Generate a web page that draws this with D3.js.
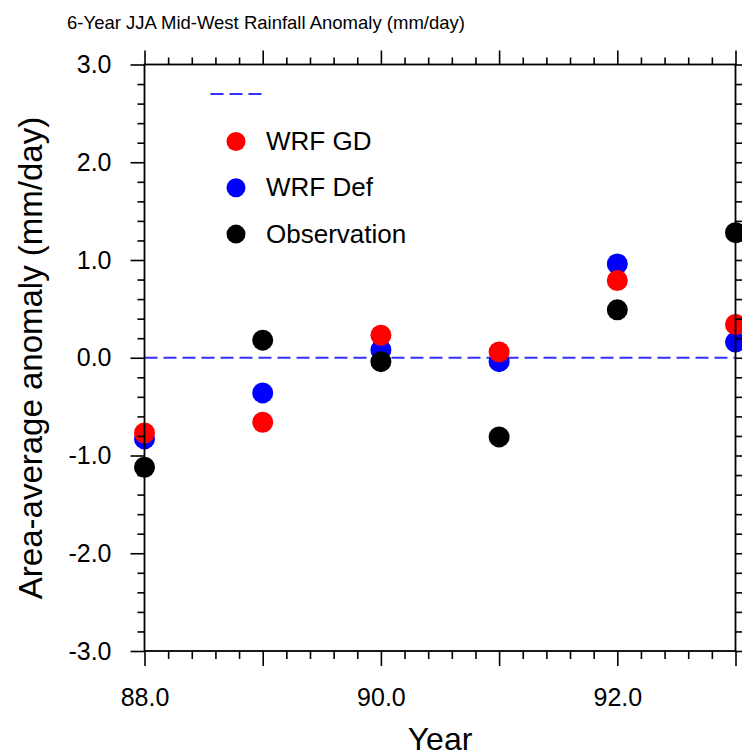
<!DOCTYPE html>
<html>
<head>
<meta charset="utf-8">
<script src="https://cdn.jsdelivr.net/npm/d3@7"></script>
<style>
  html, body { margin: 0; padding: 0; background: #fff; }
  svg { display: block; }
  text { font-family: "Liberation Sans", Arial, Helvetica, sans-serif; fill: #000; }
</style>
</head>
<body>
<svg id="chart" width="742" height="756"></svg>
<script>
// ---- data ----
const years = [88, 89, 90, 91, 92, 93];
const wrfGD = [-0.77, -0.66, 0.23, 0.06, 0.79, 0.34];
const wrfDef = [-0.83, -0.36, 0.08, -0.04, 0.96, 0.16];
const observation = [-1.12, 0.18, -0.04, -0.81, 0.49, 1.28];
const seriesNames = ["WRF GD", "WRF Def", "Observation"];
const seriesColors = ["#ff0000", "#0000ff", "#000000"];
const xMajorTicks = [88, 89, 90, 91, 92, 93];
const xLabelTicks = [88, 90, 92];
const yMajorTicks = [-3, -2, -1, 0, 1, 2, 3];
const titleText = "6-Year JJA Mid-West Rainfall Anomaly (mm/day)";
const xTitle = "Year";
const yTitle = "Area-average anomaly (mm/day)";

// ---- layout ----
const L = 144.5, R = 735.5, T = 64.5, B = 651;
const svg = d3.select("#chart");
const x = d3.scaleLinear().domain([88, 93]).range([L, R]);
const y = d3.scaleLinear().domain([-3, 3]).range([B, T]);
const fmt = v => d3.format(".1f")(v).replace("\u2212", "-");

const xMinor = d3.range(88, 93.001, 0.2).map(v => +v.toFixed(1)).filter(v => Math.abs(v - Math.round(v)) > 1e-6);
const yMinor = d3.range(-3, 3.001, 0.2).map(v => +v.toFixed(1)).filter(v => Math.abs(v - Math.round(v)) > 1e-6);

// zero reference line
svg.append("line")
  .attr("x1", x(88)).attr("x2", x(93))
  .attr("y1", y(0)).attr("y2", y(0))
  .attr("stroke", "#3333ff").attr("stroke-width", 2)
  .attr("stroke-dasharray", "13,6");

// markers: blue, red, black order
const series = [
  {name: seriesNames[1], color: seriesColors[1], values: wrfDef},
  {name: seriesNames[0], color: seriesColors[0], values: wrfGD},
  {name: seriesNames[2], color: seriesColors[2], values: observation}
];
series.forEach(s => {
  svg.append("g").selectAll("circle")
    .data(years.map((yr, i) => ({yr, v: s.values[i]})))
    .join("circle")
    .attr("cx", d => x(d.yr))
    .attr("cy", d => y(d.v))
    .attr("r", 10.5)
    .attr("fill", s.color);
});

// axes
function styleAxis(g) {
  g.select(".domain").remove();
  g.selectAll(".tick line").attr("stroke", "#000").attr("stroke-width", 1.6);
  g.selectAll(".tick text").attr("font-size", 25).attr("font-family", '"Liberation Sans", Arial, sans-serif').attr("fill", "#000");
}
// bottom
svg.append("g").attr("transform", `translate(0,${B})`)
  .call(d3.axisBottom(x).tickValues(xMajorTicks).tickSize(15)
    .tickFormat(d => xLabelTicks.includes(d) ? fmt(d) : ""))
  .call(styleAxis)
  .call(g => g.selectAll(".tick text").attr("dy", 0).attr("y", 55));
svg.append("g").attr("transform", `translate(0,${B})`)
  .call(d3.axisBottom(x).tickValues(xMinor).tickSize(8).tickFormat(""))
  .call(styleAxis);
// top
svg.append("g").attr("transform", `translate(0,${T})`)
  .call(d3.axisTop(x).tickValues(xMajorTicks).tickSize(14).tickFormat(""))
  .call(styleAxis);
svg.append("g").attr("transform", `translate(0,${T})`)
  .call(d3.axisTop(x).tickValues(xMinor).tickSize(7).tickFormat(""))
  .call(styleAxis);
// left
svg.append("g").attr("transform", `translate(${L},0)`)
  .call(d3.axisLeft(y).tickValues(yMajorTicks).tickSize(14).tickPadding(19)
    .tickFormat(fmt))
  .call(styleAxis);
svg.append("g").attr("transform", `translate(${L},0)`)
  .call(d3.axisLeft(y).tickValues(yMinor).tickSize(7).tickFormat(""))
  .call(styleAxis);
// right
svg.append("g").attr("transform", `translate(${R},0)`)
  .call(d3.axisRight(y).tickValues(yMajorTicks).tickSize(14).tickFormat(""))
  .call(styleAxis);
svg.append("g").attr("transform", `translate(${R},0)`)
  .call(d3.axisRight(y).tickValues(yMinor).tickSize(7).tickFormat(""))
  .call(styleAxis);

// frame
svg.append("rect")
  .attr("x", L).attr("y", T).attr("width", R - L).attr("height", B - T)
  .attr("fill", "none").attr("stroke", "#000").attr("stroke-width", 1.8);

// titles
svg.append("text").attr("x", 266).attr("y", 29).attr("text-anchor", "middle")
  .attr("font-size", 18.5).text(titleText);
svg.append("text").attr("x", 440).attr("y", 750).attr("text-anchor", "middle")
  .attr("font-size", 32).text(xTitle);
svg.append("text").attr("transform", "translate(42,358) rotate(-90)")
  .attr("text-anchor", "middle").attr("font-size", 33).text(yTitle);

// legend
const lg = svg.append("g");
lg.append("line").attr("x1", 210.5).attr("x2", 262).attr("y1", 94).attr("y2", 94)
  .attr("stroke", "#3333ff").attr("stroke-width", 2).attr("stroke-dasharray", "13,6");
const legendItems = seriesNames.map((n, i) => ({name: n, color: seriesColors[i]}));
lg.selectAll("circle").data(legendItems).join("circle")
  .attr("cx", 236).attr("cy", (d, i) => 141.5 + i * 46.3)
  .attr("r", 9.5).attr("fill", d => d.color);
lg.selectAll("text").data(legendItems).join("text")
  .attr("x", 266).attr("y", (d, i) => 150 + i * 46.3)
  .attr("font-size", 26).text(d => d.name);
</script>
</body>
</html>
